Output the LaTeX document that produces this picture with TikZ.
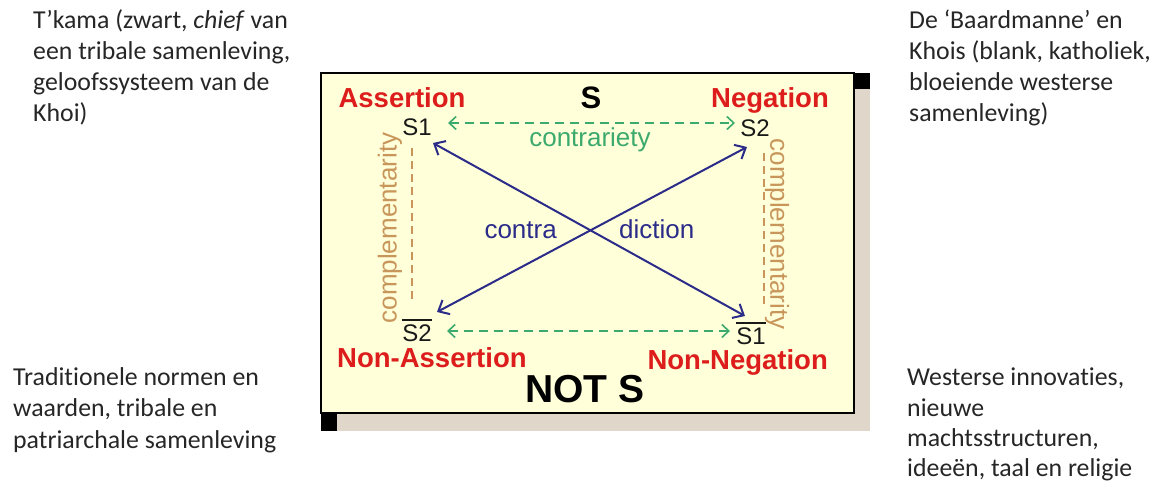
\documentclass[tikz,border=0pt]{standalone}
\usepackage{fontspec}
\setmainfont{Liberation Sans}
\newfontfamily\calib[Ligatures=NoCommon]{Carlito}
\usetikzlibrary{arrows.meta}
\definecolor{cream}{HTML}{FFFFDA}
\definecolor{shadowtan}{HTML}{E0D6CA}
\definecolor{lblred}{HTML}{DD1C1C}
\definecolor{cgreen}{HTML}{3CAA6E}
\definecolor{cnavy}{HTML}{2B2B8A}
\definecolor{corange}{HTML}{C8965A}
\newcommand\ovl[1]{\leavevmode\setbox0=\hbox{#1}\vbox{\hrule height 1.8pt\kern 3.5pt\box0}}
\begin{document}
\begin{tikzpicture}[x=1pt,y=-1pt,
  side/.style={font=\calib\fontsize{25.8}{30}\selectfont, anchor=base west, inner sep=0pt, text=black!85},
  redlbl/.style={font=\bfseries\fontsize{27.5}{32}\selectfont, text=lblred, inner sep=0pt, anchor=base},
  term/.style={font=\fontsize{24}{28}\selectfont, inner sep=0pt, anchor=base, text=black!90},
  bigs/.style={font=\bfseries\fontsize{31}{34}\selectfont, inner sep=0pt, anchor=base},
  greenlbl/.style={font=\fontsize{26}{30}\selectfont, text=cgreen, inner sep=0pt, anchor=base},
  bluelbl/.style={font=\fontsize{26}{30}\selectfont, text=cnavy, inner sep=0pt, anchor=base},
  complbl/.style={font=\fontsize{26}{30}\selectfont, text=corange, inner sep=0pt, anchor=center},
  contrarrow/.style={draw=cgreen, line width=1.6pt, dash pattern=on 9pt off 6pt,
     {Straight Barb[length=7pt,width=13pt]}-{Straight Barb[length=7pt,width=13pt]}},
  contraarrow/.style={draw=cnavy, line width=2pt,
     {Straight Barb[length=9pt,width=16pt]}-{Straight Barb[length=9pt,width=16pt]}},
  compline/.style={draw=corange, line width=1.5pt, dash pattern=on 8pt off 5pt},
]
\useasboundingbox (0,0) rectangle (1154,488);
\fill[white] (0,0) rectangle (1154,488);

% frame with shadow
\fill[shadowtan] (337,89) rectangle (870,431);
\fill[black] (854,73) rectangle (870,89);
\fill[black] (321,413) rectangle (337,431);
\draw[fill=cream, line width=1.8pt] (321,73) rectangle (854,413);

% side texts
\node[side] (tl1) at (33,28) {T’kama (zwart, \textit{chief} van};
\node[side] (tl2) at (33,59) {een tribale samenleving,};
\node[side] (tl3) at (33,90) {geloofssysteem van de};
\node[side] (tl4) at (33,121) {Khoi)};

\node[side] (tr1) at (909,28) {De ‘Baardmanne’ en};
\node[side] (tr2) at (909,59) {Khois (blank, katholiek,};
\node[side] (tr3) at (909,90) {bloeiende westerse};
\node[side] (tr4) at (909,121) {samenleving)};

\node[side] (bl1) at (13,385) {Traditionele normen en};
\node[side] (bl2) at (13,416) {waarden, tribale en};
\node[side] (bl3) at (13,448) {patriarchale samenleving};

\node[side] (br1) at (907,385) {Westerse innovaties,};
\node[side] (br2) at (907,416) {nieuwe};
\node[side] (br3) at (907,446) {machtsstructuren,};
\node[side] (br4) at (907,476) {ideeën, taal en religie};

% labels
\node[redlbl] (assert) at (402,107) {Assertion};
\node[redlbl] (neg) at (770,107) {Negation};
\node[redlbl, anchor=base west] (nassert) at (337,367) {Non-Assertion};
\node[redlbl, anchor=base east] (nneg) at (828,369) {Non-Negation};
\node[bigs] (S) at (591,108) {S};
\node[bigs, font=\bfseries\fontsize{39}{44}\selectfont] (notS) at (585,402) {NOT S};

% terms
\node[term] (s2b) at (417,341) {\ovl{S2}};
\node[term] (s1b) at (751,344) {\ovl{S1}};
\node[term] (s1) at (417,135) {S1};
\node[term] (s2) at (755,136) {S2};

% contrariety
\coordinate (c1) at (448,123);
\coordinate (c2) at (735,123);
\coordinate (c3) at (447,331);
\coordinate (c4) at (730,331);
\draw[contrarrow] (c1) -- (c2);
\draw[contrarrow] (c3) -- (c4);
\node[greenlbl] (contrar) at (590,146) {contrariety};

% contradiction
\coordinate (d1) at (433,143);
\coordinate (d2) at (745,316);
\coordinate (d3) at (747,147);
\coordinate (d4) at (437,312);
\draw[contraarrow] (d1) -- (d2);
\draw[contraarrow] (d3) -- (d4);
\node[bluelbl, anchor=base east] (contra) at (557,238) {contra};
\node[bluelbl, anchor=base west] (diction) at (619,238) {diction};

% complementarity
\coordinate (e1) at (412,148);
\coordinate (e2) at (412,300);
\coordinate (e3) at (764,153);
\coordinate (e4) at (764,308);
\draw[compline] (e1) -- (e2);
\draw[compline] (e3) -- (e4);
\node[complbl, rotate=90] (compl) at (390,228) {complementarity};
\node[complbl, rotate=-90] (compr) at (777,234) {complementarity};
\end{tikzpicture}
\end{document}
